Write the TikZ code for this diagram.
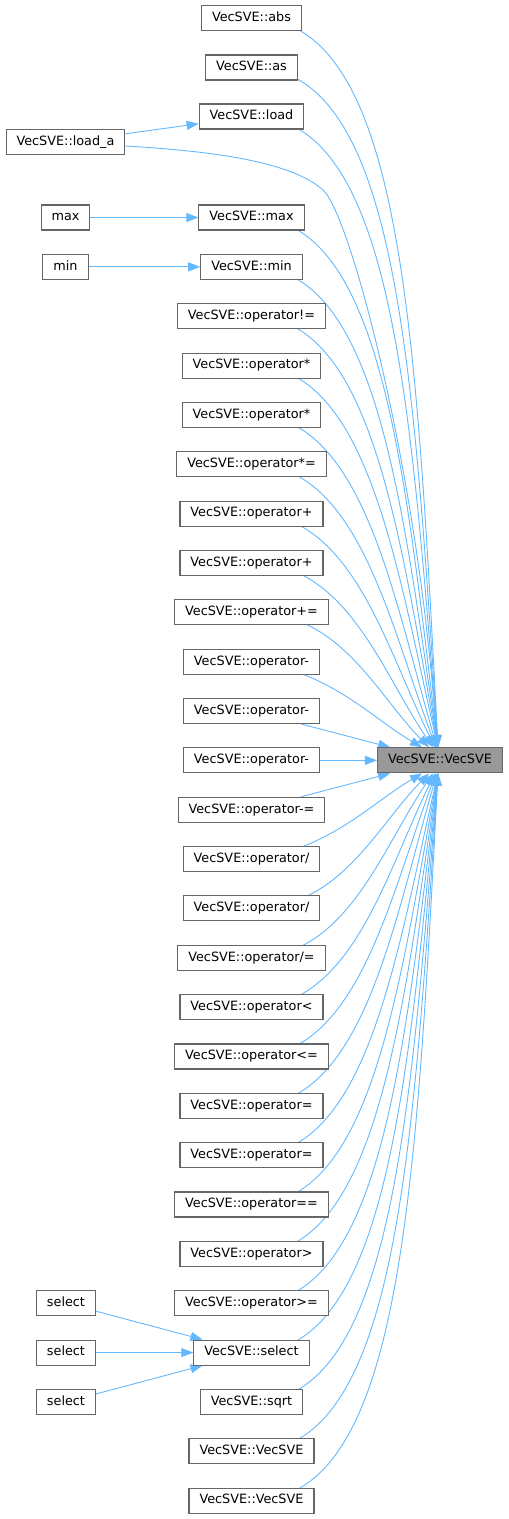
\documentclass[tikz,border=0pt]{standalone}
\usepackage{fontspec}
\newfontfamily\dejavu{DejaVu Sans}
\usetikzlibrary{arrows.meta,calc}
\pgfdeclarelayer{bg}
\pgfsetlayers{bg,main}
\definecolor{edgeblue}{HTML}{63B8FF}
\definecolor{boxgray}{HTML}{666666}
\definecolor{tgtfill}{HTML}{999999}
\tikzset{
 box/.style={draw=boxgray, line width=1.1pt, fill=white, minimum height=25pt, inner xsep=10.5pt, inner ysep=0pt, text height=9.4pt, text depth=2.7pt, font=\dejavu\fontsize{12.8}{14}\selectfont},
 tgtbox/.style={box, fill=tgtfill},
 edge/.style={draw=edgeblue, line width=0.9pt, -{Triangle[length=12pt,width=9pt]}},
}
\newcommand\cedge[2]{%
 \draw[edge] let \p1=(#1.center), \p2=(#2), \n1={max(0,min(1,(abs(\y2-\y1)-140)/594))} in (\p1) .. controls ($(\p1)+({(0.5+0.3*\n1)*(\x2-\x1)},0pt)$) and ($(\p2)-({(0.3-0.18*\n1)*(\x2-\x1)},{(0.4+0.2*\n1)*(\y2-\y1)})$) .. (\p2);}
\newcommand\pedge[6]{%
 \draw[edge] let \p1=(#1.center), \p2=(#2) in (\p1) .. controls ($(\p1)+({#3*(\x2-\x1)},{#4*(\y2-\y1)})$) and ($(\p2)-({#5*(\x2-\x1)},{#6*(\y2-\y1)})$) .. (\p2);}
\begin{document}
\begin{tikzpicture}[x=1pt,y=-1pt]
\useasboundingbox (0,0) rectangle (509,1519);
% middle column
\node[box] (nabs) at (251.5,18) {VecSVE::abs};
\node[box] (nas) at (251.5,67.5) {VecSVE::as};
\node[box] (nload) at (251.5,116.5) {VecSVE::load};
\node[box] (nmax) at (251.5,217.5) {VecSVE::max};
\node[box] (nmin) at (251.5,266.85) {VecSVE::min};
\node[box] (ne) at (251.5,316.2) {VecSVE::operator!=};
\node[box] (nm1) at (251.5,365.55) {VecSVE::operator*};
\node[box] (nm2) at (251.5,414.9) {VecSVE::operator*};
\node[box] (nme) at (251.5,464.25) {VecSVE::operator*=};
\node[box] (np1) at (251.5,513.6) {VecSVE::operator+};
\node[box] (np2) at (251.5,562.95) {VecSVE::operator+};
\node[box] (npe) at (251.5,612.3) {VecSVE::operator+=};
\node[box] (nd1) at (251.5,661.65) {VecSVE::operator-};
\node[box] (nd2) at (251.5,711) {VecSVE::operator-};
\node[box] (nd3) at (251.5,760.35) {VecSVE::operator-};
\node[box] (nde) at (251.5,809.7) {VecSVE::operator-=};
\node[box] (nq1) at (251.5,859.05) {VecSVE::operator/};
\node[box] (nq2) at (251.5,908.4) {VecSVE::operator/};
\node[box] (nqe) at (251.5,957.75) {VecSVE::operator/=};
\node[box] (nlt) at (251.5,1007.1) {VecSVE::operator<};
\node[box] (nle) at (251.5,1056.45) {VecSVE::operator<=};
\node[box] (nas1) at (251.5,1105.8) {VecSVE::operator=};
\node[box] (nas2) at (251.5,1155.15) {VecSVE::operator=};
\node[box] (neq) at (251.5,1204.5) {VecSVE::operator==};
\node[box] (ngt) at (251.5,1253.85) {VecSVE::operator>};
\node[box] (nge) at (251.5,1303.2) {VecSVE::operator>=};
\node[box] (nsel) at (251.5,1352.55) {VecSVE::select};
\node[box] (nsqrt) at (251.5,1401.9) {VecSVE::sqrt};
\node[box] (nv1) at (251.5,1451.25) {VecSVE::VecSVE};
\node[box] (nv2) at (251.5,1500.6) {VecSVE::VecSVE};
% left column
\node[box] (nloada) at (65.5,142) {VecSVE::load\_a};
\node[box] (lmax) at (65.5,217.5) {max};
\node[box] (lmin) at (65.5,266.85) {min};
\node[box] (lsel1) at (66,1303.2) {select};
\node[box] (lsel2) at (66,1352.55) {select};
\node[box] (lsel3) at (66,1401.9) {select};
% target
\node[tgtbox] (tgt) at (440,760.35) {VecSVE::VecSVE};
\coordinate (la1) at (323,190);
\begin{pgfonlayer}{bg}
% left to middle
\draw[edge] (nloada) -- (nload);
\draw[edge] (lmax) -- (nmax);
\draw[edge] (lmin) -- (nmin);
\draw[edge] (lsel1) -- (nsel);
\draw[edge] (lsel2) -- (nsel);
\draw[edge] (lsel3) -- (nsel);
% load_a to target
\draw[edge] ($(nloada.east)+(0,4)$) .. controls (230,152) and (295,165) .. (la1) .. controls (351,215) and (420,480) .. ($(tgt.north west)+(60,0)$);
% upper edges
\cedge{nabs}{$(tgt.north west)+(61,0)$}
\cedge{nas}{$(tgt.north west)+(61,0)$}
\cedge{nload}{$(tgt.north west)+(61,0)$}
\cedge{nmax}{$(tgt.north west)+(61,0)$}
\cedge{nmin}{$(tgt.north west)+(61,0)$}
\cedge{ne}{$(tgt.north west)+(61,0)$}
\cedge{nm1}{$(tgt.north west)+(61,0)$}
\cedge{nm2}{$(tgt.north west)+(60,0)$}
\cedge{nme}{$(tgt.north west)+(59,0)$}
\cedge{np1}{$(tgt.north west)+(58,0)$}
\cedge{np2}{$(tgt.north west)+(56,0)$}
\cedge{npe}{$(tgt.north west)+(52,0)$}
\pedge{nd1}{$(tgt.north west)+(45,0)$}{0.45}{0.1}{0.3}{0.35}
\draw[edge] (nd2) -- (tgt);
\draw[edge] (nd3) -- (tgt);
% lower edges
\draw[edge] (nde) -- (tgt);
\pedge{nq1}{$(tgt.south west)+(45,0)$}{0.45}{0.1}{0.3}{0.35}
\cedge{nq2}{$(tgt.south west)+(52,0)$}
\cedge{nqe}{$(tgt.south west)+(56,0)$}
\cedge{nlt}{$(tgt.south west)+(58,0)$}
\cedge{nle}{$(tgt.south west)+(59,0)$}
\cedge{nas1}{$(tgt.south west)+(60,0)$}
\cedge{nas2}{$(tgt.south west)+(61,0)$}
\cedge{neq}{$(tgt.south west)+(61,0)$}
\cedge{ngt}{$(tgt.south west)+(61,0)$}
\cedge{nge}{$(tgt.south west)+(61,0)$}
\cedge{nsel}{$(tgt.south west)+(61,0)$}
\cedge{nsqrt}{$(tgt.south west)+(61,0)$}
\cedge{nv1}{$(tgt.south west)+(61,0)$}
\cedge{nv2}{$(tgt.south west)+(61,0)$}
\end{pgfonlayer}
\end{tikzpicture}
\end{document}
